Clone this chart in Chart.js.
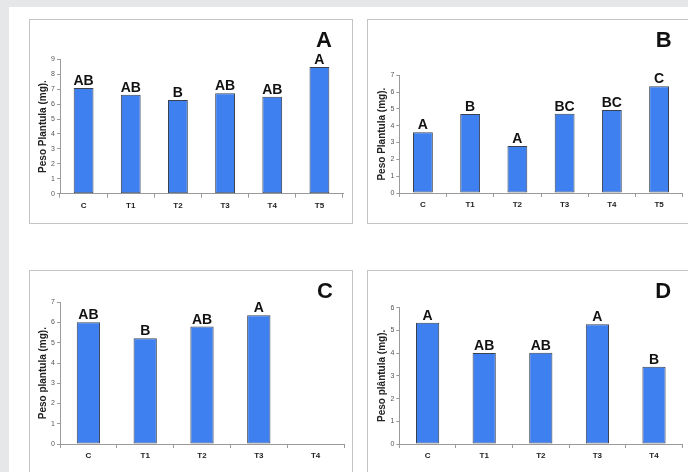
<!DOCTYPE html>
<html>
<head>
<meta charset="utf-8">
<script src="https://cdn.jsdelivr.net/npm/chart.js"></script>
<style>
  html, body { margin: 0; padding: 0; width: 688px; height: 472px; overflow: hidden; background: #e6e7e9; }
  .sheet { position: absolute; left: 9px; top: 7px; right: 0; bottom: 0; background: #fff; }
  .panel { position: absolute; box-sizing: border-box; border: 1px solid #c4c4c4; background: #fff; }
  .panel canvas { display: block; }
</style>
</head>
<body>
<div class="sheet"></div>
<div class="panel" id="pA" style="left:29px;top:19px;width:324px;height:205px"><canvas id="chartA"></canvas></div>
<div class="panel" id="pB" style="left:367px;top:19px;width:330px;height:205px"><canvas id="chartB"></canvas></div>
<div class="panel" id="pC" style="left:29px;top:270px;width:324px;height:212px"><canvas id="chartC"></canvas></div>
<div class="panel" id="pD" style="left:367px;top:270px;width:330px;height:212px"><canvas id="chartD"></canvas></div>

<script>
// Dati (peso plantula, mg)
const catsAB = ['C', 'T1', 'T2', 'T3', 'T4', 'T5'];
const catsCD = ['C', 'T1', 'T2', 'T3', 'T4'];

const valuesA = [7.07, 6.63, 6.27, 6.72, 6.50, 8.48];
const lettersA = ['AB', 'AB', 'B', 'AB', 'AB', 'A'];

const valuesB = [3.61, 4.70, 2.80, 4.72, 4.94, 6.35];
const lettersB = ['A', 'B', 'A', 'BC', 'BC', 'C'];

const valuesC = [6.01, 5.22, 5.80, 6.36, null];
const lettersC = ['AB', 'B', 'AB', 'A', ''];

const valuesD = [5.34, 4.01, 4.02, 5.27, 3.40];
const lettersD = ['A', 'AB', 'AB', 'A', 'B'];

const FONT = "'Liberation Sans', Arial, sans-serif";

// scritte sopra le barre + lettera del pannello
const letterPlugin = {
    id: 'letters',
    afterDatasetsDraw(chart, args, opts) {
        const ctx = chart.ctx;
        const meta = chart.getDatasetMeta(0);
        ctx.save();
        ctx.fillStyle = '#111';
        ctx.textAlign = 'center';
        ctx.textBaseline = 'alphabetic';
        ctx.font = 'bold 14px ' + FONT;
        meta.data.forEach((bar, i) => {
            const txt = opts.letters[i];
            if (!txt || chart.data.datasets[0].data[i] == null) return;
            ctx.fillText(txt, bar.x, bar.y - 3);
        });
        ctx.font = 'bold 22px ' + FONT;
        ctx.fillText(opts.panel, chart.chartArea.right - 19, 27);
        ctx.restore();
    }
};

function makeChart(id, boxId, cats, values, letters, panel, yMax, yTitle, plot, barPct) {
    const box = document.getElementById(boxId);
    const cx = box.offsetLeft + 1, cy = box.offsetTop + 1;
    const cw = box.offsetWidth - 2, ch = box.offsetHeight - 2;
    const canvas = document.getElementById(id);
    canvas.width = cw; canvas.height = ch;
    canvas.style.width = cw + 'px'; canvas.style.height = ch + 'px';

    const yW = 30, xH = 22;
    const padL = (plot.l - cx) - yW;
    const titleFont = { family: FONT, size: 10, weight: 'bold', lineHeight: 1.2 };
    const titlePad = (plot.l - 17) - (cx + padL) - 6;

    new Chart(canvas, {
        type: 'bar',
        data: {
            labels: cats,
            datasets: [{
                data: values,
                backgroundColor: '#3e80f0',
                borderColor: '#3a4150',
                borderWidth: 1,
                borderSkipped: false,
                barPercentage: barPct,
                categoryPercentage: 1
            }]
        },
        options: {
            responsive: false,
            animation: false,
            devicePixelRatio: 1,
            layout: {
                padding: {
                    left: padL,
                    right: cw - (plot.r - cx),
                    top: plot.t - cy,
                    bottom: ch - (plot.b - cy) - xH
                }
            },
            plugins: {
                legend: { display: false },
                tooltip: { enabled: false },
                letters: { letters: letters, panel: panel }
            },
            scales: {
                x: {
                    afterFit(scale) { scale.height = xH; },
                    grid: { offset: true, drawOnChartArea: false, drawTicks: true, tickLength: 4, color: '#9a9a9a' },
                    border: { color: '#9a9a9a' },
                    ticks: { color: '#222', padding: 3, font: { family: FONT, size: 8, weight: 'bold' }, maxRotation: 0 }
                },
                y: {
                    min: 0,
                    max: yMax,
                    afterFit(scale) { scale.width = yW; },
                    grid: { drawOnChartArea: false, drawTicks: true, tickLength: 3, color: '#9a9a9a' },
                    border: { color: '#9a9a9a' },
                    ticks: { stepSize: 1, color: '#555', padding: 2, font: { family: FONT, size: 7 } },
                    title: { display: true, text: yTitle, color: '#222', font: titleFont, padding: { top: titlePad, bottom: 0 } }
                }
            }
        },
        plugins: [letterPlugin]
    });
}

document.addEventListener('DOMContentLoaded', () => {
    makeChart('chartA', 'pA', catsAB, valuesA, lettersA, 'A', 9, 'Peso Plantula (mg).',
        { l: 60, r: 343, t: 59.3, b: 193.7 }, 0.42);
    makeChart('chartB', 'pB', catsAB, valuesB, lettersB, 'B', 7, 'Peso Plantula (mg).',
        { l: 399.3, r: 682.7, t: 75.3, b: 193 }, 0.42);
    makeChart('chartC', 'pC', catsCD, valuesC, lettersC, 'C', 7, 'Peso plantula (mg).',
        { l: 60, r: 344, t: 302.3, b: 444 }, 0.41);
    makeChart('chartD', 'pD', catsCD, valuesD, lettersD, 'D', 6, 'Peso plântula (mg).',
        { l: 399.3, r: 682.3, t: 307.7, b: 444 }, 0.41);
});
</script>
</body>
</html>
